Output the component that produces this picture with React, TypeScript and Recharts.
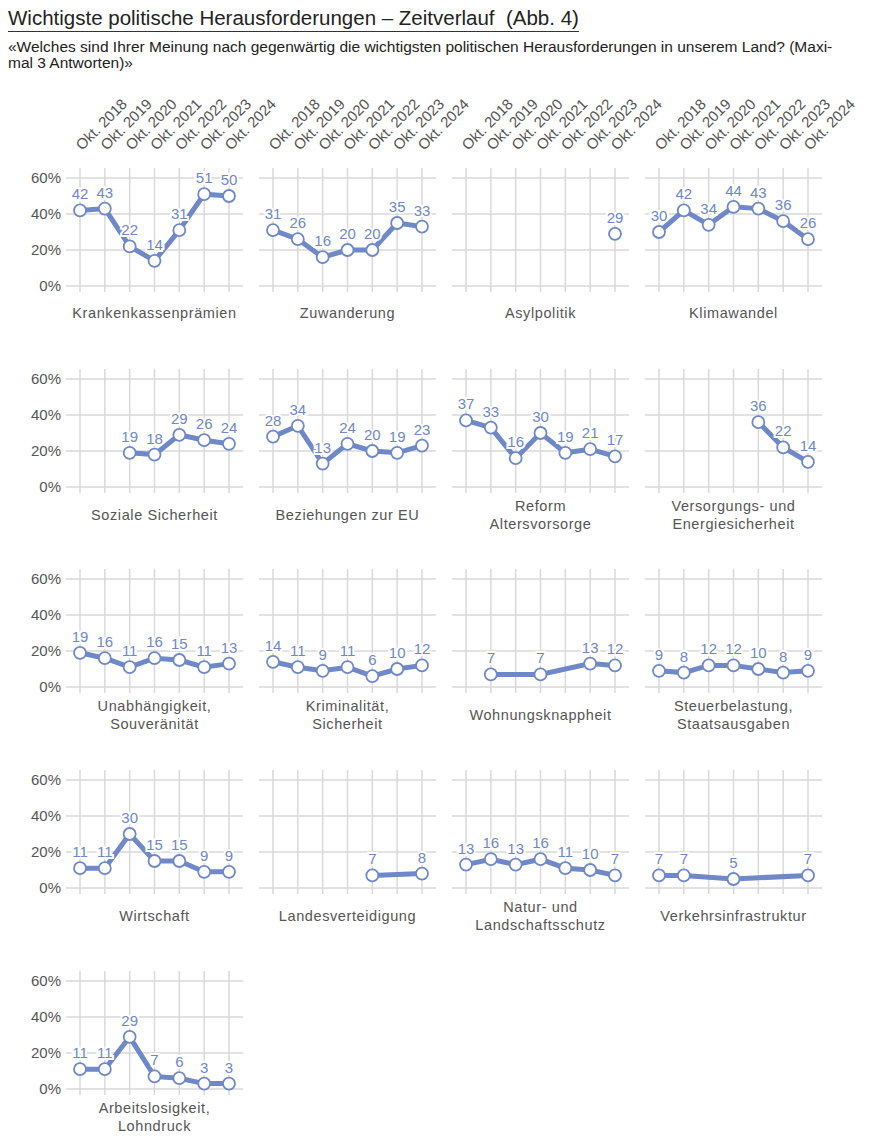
import React from 'react';
import { LineChart, Line, XAxis, YAxis, CartesianGrid } from 'recharts';

const YEARS = ['Okt. 2018', 'Okt. 2019', 'Okt. 2020', 'Okt. 2021', 'Okt. 2022', 'Okt. 2023', 'Okt. 2024'];
const Y_TICKS = [0, 20, 40, 60];

const TOPICS = [
  'Krankenkassenprämien',
  'Zuwanderung',
  'Asylpolitik',
  'Klimawandel',
  'Soziale Sicherheit',
  'Beziehungen zur EU',
  'Reform\nAltersvorsorge',
  'Versorgungs- und\nEnergiesicherheit',
  'Unabhängigkeit,\nSouveränität',
  'Kriminalität,\nSicherheit',
  'Wohnungsknappheit',
  'Steuerbelastung,\nStaatsausgaben',
  'Wirtschaft',
  'Landesverteidigung',
  'Natur- und\nLandschaftsschutz',
  'Verkehrsinfrastruktur',
  'Arbeitslosigkeit,\nLohndruck',
];

const krankenkassen = [42, 43, 22, 14, 31, 51, 50];
const zuwanderung = [31, 26, 16, 20, 20, 35, 33];
const asyl = [null, null, null, null, null, null, 29];
const klima = [30, 42, 34, 44, 43, 36, 26];
const sozial = [null, null, 19, 18, 29, 26, 24];
const eu = [28, 34, 13, 24, 20, 19, 23];
const altersvorsorge = [37, 33, 16, 30, 19, 21, 17];
const energie = [null, null, null, null, 36, 22, 14];
const souveraenitaet = [19, 16, 11, 16, 15, 11, 13];
const kriminalitaet = [14, 11, 9, 11, 6, 10, 12];
const wohnung = [null, 7, null, 7, null, 13, 12];
const steuer = [9, 8, 12, 12, 10, 8, 9];
const wirtschaft = [11, 11, 30, 15, 15, 9, 9];
const verteidigung = [null, null, null, null, 7, null, 8];
const natur = [13, 16, 13, 16, 11, 10, 7];
const verkehr = [7, 7, null, 5, null, null, 7];
const arbeit = [11, 11, 29, 7, 6, 3, 3];

const SERIES = [
  krankenkassen, zuwanderung, asyl, klima,
  sozial, eu, altersvorsorge, energie,
  souveraenitaet, kriminalitaet, wohnung, steuer,
  wirtschaft, verteidigung, natur, verkehr,
  arbeit,
];

const BLUE = '#6e88c8';
const GRID = '#d9d9d9';
const TEXT = '#555';
const FONT = "'Liberation Sans', Arial, sans-serif";

const PLOT_W = 177;
const PLOT_H = 124;
const COL_X = [66, 259, 452, 645];
const ROW_Y = [168, 369, 569, 770, 971];
const AXIS_W = 58;
const TOP_AXIS_H = 90;
// 1.8px per percentage point, grid lines run 10px above 60% and 6px below 0%
const DOMAIN: [number, number] = [-6 / 1.8, 60 + 10 / 1.8];

const ValueLabel = (props: any) => {
  const { x, y, value } = props;
  if (value == null) return null;
  return (
    <text
      x={x}
      y={y - 11}
      textAnchor="middle"
      fontSize={15}
      fontFamily={FONT}
      fill={BLUE}
      stroke="#fff"
      strokeWidth={4}
      paintOrder="stroke"
    >
      {value}
    </text>
  );
};

const YearTick = (props: any) => {
  const { x, y, payload } = props;
  const tx = x + 2;
  return (
    <text
      x={tx}
      y={y}
      transform={`rotate(-45, ${tx}, ${y})`}
      textAnchor="start"
      fontSize={15}
      fontFamily={FONT}
      fill={TEXT}
    >
      {payload.value}
    </text>
  );
};

function Panel({ index }: { index: number }) {
  const col = index % 4;
  const row = Math.floor(index / 4);
  const values = SERIES[index];
  const data = YEARS.map((year, i) => ({ year, v: values[i] }));
  const first = col === 0;
  const top = row === 0;
  const width = PLOT_W + (first ? AXIS_W : 0);
  const height = PLOT_H + (top ? TOP_AXIS_H : 0);
  const left = COL_X[col] - (first ? AXIS_W : 0);
  const chartTop = ROW_Y[row] - (top ? TOP_AXIS_H : 0);
  const zeroY = ROW_Y[row] + 118;
  const lines = TOPICS[index].split('\n');

  return (
    <>
      <div style={{ position: 'absolute', left, top: chartTop }}>
        <LineChart width={width} height={height} data={data} margin={{ top: 0, right: 0, bottom: 0, left: 0 }}>
          <CartesianGrid stroke={GRID} strokeWidth={1.5} syncWithTicks />
          <XAxis
            dataKey="year"
            orientation="top"
            hide={!top}
            height={TOP_AXIS_H}
            interval={0}
            padding={{ left: 14, right: 14 }}
            axisLine={false}
            tickLine={false}
            tickSize={0}
            tickMargin={17}
            tick={<YearTick />}
          />
          <YAxis
            hide={!first}
            width={AXIS_W}
            domain={DOMAIN}
            ticks={Y_TICKS}
            interval={0}
            allowDataOverflow
            axisLine={false}
            tickLine={false}
            tickSize={0}
            tickMargin={5}
            tickFormatter={(v: number) => `${v}%`}
            tick={{ fontSize: 15, fill: TEXT, fontFamily: FONT }}
          />
          <Line
            dataKey="v"
            type="linear"
            stroke={BLUE}
            strokeWidth={5}
            connectNulls
            isAnimationActive={false}
            dot={{ r: 6, fill: '#fff', stroke: BLUE, strokeWidth: 1.8 }}
            activeDot={false}
            label={<ValueLabel />}
          />
        </LineChart>
      </div>
      <div
        style={{
          position: 'absolute',
          left: COL_X[col] - 8,
          width: PLOT_W + 16,
          top: zeroY + 10,
          height: row === 0 ? 34 : 36,
          display: 'flex',
          flexDirection: 'column',
          justifyContent: 'center',
          alignItems: 'center',
          fontFamily: FONT,
          fontSize: 14.5,
          letterSpacing: 0.6,
          lineHeight: '18px',
          color: TEXT,
        }}
      >
        {lines.map((l) => (
          <div key={l}>{l}</div>
        ))}
      </div>
    </>
  );
}

export default function App() {
  return (
    <div style={{ position: 'absolute', left: 0, top: 0, width: 873, height: 1138, background: '#fff' }}>
      <style>{'.recharts-surface { overflow: visible; }'}</style>
      <div
        style={{
          position: 'absolute',
          left: 8,
          top: 6,
          fontFamily: "'Liberation Sans Narrow', 'Liberation Sans', sans-serif",
          fontSize: 20.5,
          color: '#222',
          borderBottom: '1.5px solid #333',
          paddingBottom: 1,
          whiteSpace: 'nowrap',
        }}
      >
        Wichtigste politische Herausforderungen – Zeitverlauf&nbsp;&nbsp;(Abb. 4)
      </div>
      <div
        style={{
          position: 'absolute',
          left: 8,
          top: 39,
          fontFamily: "'Liberation Sans Narrow', 'Liberation Sans', sans-serif",
          fontSize: 15.5,
          lineHeight: '16px',
          color: '#222',
          whiteSpace: 'nowrap',
        }}
      >
        «Welches sind Ihrer Meinung nach gegenwärtig die wichtigsten politischen Herausforderungen in unserem Land? (Maxi-
        <br />
        mal 3 Antworten)»
      </div>
      {TOPICS.map((_, i) => (
        <Panel key={i} index={i} />
      ))}
    </div>
  );
}
